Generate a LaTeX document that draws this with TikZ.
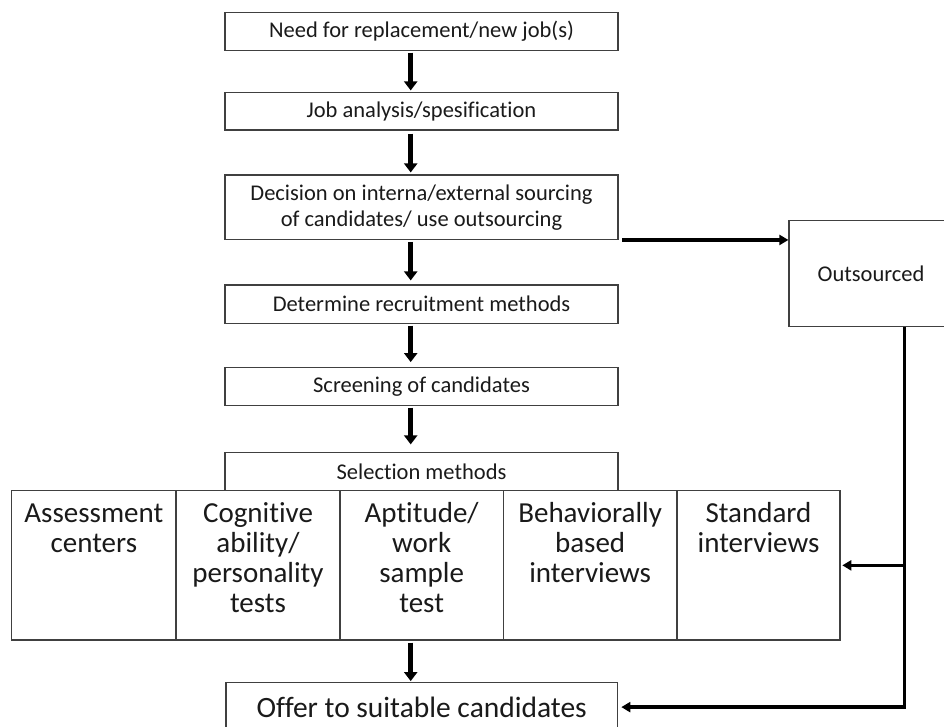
\documentclass[tikz,border=0pt]{standalone}
\usepackage{fontspec}
\setmainfont{Carlito}[Ligatures={NoCommon}]
\usetikzlibrary{arrows.meta}
\definecolor{edge}{HTML}{404040}
\definecolor{ink}{HTML}{1A1A1A}
\newcommand\cellbox[2]{\parbox[c][149.3pt][t]{#1pt}{\centering\rule{0pt}{32pt}#2}}
\tikzset{
  box/.style={draw=edge, line width=1.2pt, inner sep=0pt, minimum width=393pt,
    text=ink, font=\fontsize{22.5}{26}\selectfont, align=center},
  cell/.style={draw=edge, line width=1.2pt, inner sep=0pt, text=ink,
    font=\fontsize{29}{30}\selectfont},
  bigarrow/.style={line width=5pt, -{Triangle[width=13pt,length=9pt]}},
  conn/.style={line width=3.5pt, -{Triangle[width=10pt,length=9pt]}}
}
\begin{document}
\begin{tikzpicture}[x=1pt,y=-1pt]
\useasboundingbox (0,0) rectangle (944,727);
\fill[white] (0,0) rectangle (944,727);
\node[box, minimum height=38pt] (n1) at (421.5,31.7) {Need for replacement/new job(s)};
\node[box, minimum height=37.3pt] (n2) at (421.5,111.4) {Job analysis/spesification};
\node[box, minimum height=64.3pt] (n3) at (421.5,207.2) {Decision on interna/external sourcing\\of candidates/ use outsourcing};
\node[box, minimum height=38.3pt] (n4) at (421.5,304.2) {Determine recruitment methods};
\node[box, minimum height=38pt] (n5) at (421.5,386.7) {Screening of candidates};
\node[box, minimum height=38pt] (sel) at (421.5,471.7) {Selection methods};
\node[box, minimum width=164pt, minimum height=106pt] (out) at (871,273.7) {Outsourced};
\node[cell] (ra) at (93.85,565.35) {\cellbox{164.3}{Assessment\\centers}};
\node[cell] (rb) at (258,565.35) {\cellbox{164}{Cognitive\\ability/\\personality\\tests}};
\node[cell] (rc) at (421.65,565.35) {\cellbox{163.3}{Aptitude/\\work\\sample\\test}};
\node[cell] (rd) at (590.15,565.35) {\cellbox{173.7}{Behaviorally\\based\\interviews}};
\node[cell] (re) at (758.5,565.35) {\cellbox{163}{Standard\\interviews}};
\node[box, minimum width=391.3pt, minimum height=48.8pt, font=\fontsize{29.5}{30}\selectfont] (offer) at (421.65,707.1) {Offer to suitable candidates};
\coordinate (ax) at (410.7,0);
\coordinate (vx) at (904.5,0);
\draw[bigarrow, shorten <=1.3pt, shorten >=1.7pt] (n1.south -| ax) -- (n2.north -| ax);
\draw[bigarrow, shorten <=3pt, shorten >=2pt] (n2.south -| ax) -- (n3.north -| ax);
\draw[bigarrow, shorten <=2pt, shorten >=4pt] (n3.south -| ax) -- (n4.north -| ax);
\draw[bigarrow, shorten <=1.7pt, shorten >=5pt] (n4.south -| ax) -- (n5.north -| ax);
\draw[bigarrow, shorten <=1.3pt, shorten >=7.7pt] (n5.south -| ax) -- (sel.north -| ax);
\draw[bigarrow, shorten <=2pt, shorten >=1pt] (rc.south -| ax) -- (offer.north -| ax);
\draw[conn] ([xshift=3.4pt]n3.south east) -- (n3.south east -| out.west);
\draw[conn] (out.south -| vx) |- ([xshift=3.4pt]offer.east);
\draw[conn] (re.east -| vx) -- ([xshift=1.7pt]re.east);
\end{tikzpicture}
\end{document}
